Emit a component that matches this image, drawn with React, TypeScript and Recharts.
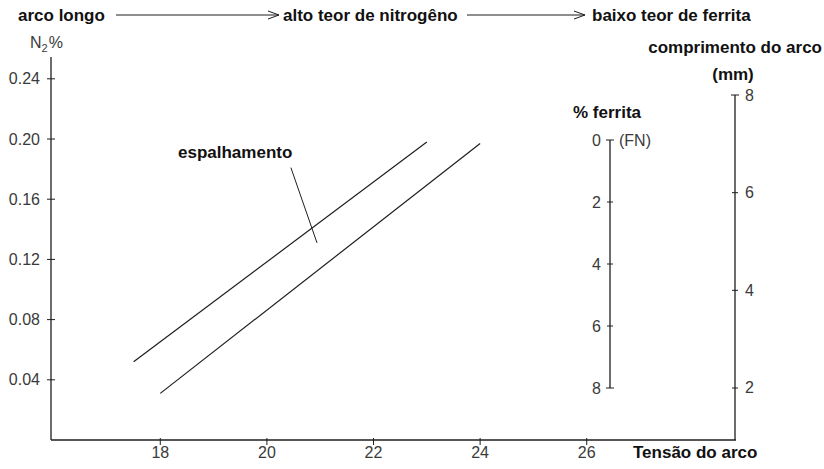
import React from 'react';
import { LineChart, Line, XAxis, YAxis, ReferenceLine } from 'recharts';

// ---- data ----
const tensionTicks = [18, 20, 22, 24, 26];
const n2Ticks = [0.04, 0.08, 0.12, 0.16, 0.2, 0.24];
const ferritaTicks = [0, 2, 4, 6, 8];
const comprimentoTicks = [2, 4, 6, 8];

const upperBand = [
  { v: 17.5, n2: 0.052 },
  { v: 23.0, n2: 0.198 },
];
const lowerBand = [
  { v: 18.0, n2: 0.031 },
  { v: 24.0, n2: 0.197 },
];
const leaderStart = { x: 20.45, y: 0.181 };
const leaderEnd = { x: 20.94, y: 0.131 };

const FONT = '"Liberation Sans", Arial, Helvetica, sans-serif';
const INK = '#1e1e1e';
const TICK_INK = '#3a3a3a';

const LeftTick = (props: any) => {
  const { x, y, payload } = props;
  return (
    <g>
      <line x1={x - 4} x2={x + 4} y1={y} y2={y} stroke={INK} strokeWidth={1} />
      <text x={x - 11} y={y} textAnchor="end" dominantBaseline="central" fontSize={16} fontFamily={FONT} fill={TICK_INK}>
        {Number(payload.value).toFixed(2)}
      </text>
    </g>
  );
};

const BottomTick = (props: any) => {
  const { x, y, payload } = props;
  return (
    <g>
      <line x1={x} x2={x} y1={y - 2} y2={y + 5} stroke={INK} strokeWidth={1} />
      <text x={x} y={y + 12} textAnchor="middle" dominantBaseline="central" fontSize={16} fontFamily={FONT} fill={TICK_INK}>
        {payload.value}
      </text>
    </g>
  );
};

const FerritaTick = (props: any) => {
  const { x, y, payload } = props;
  const end = payload.value === 0 || payload.value === 8;
  return (
    <g>
      <line x1={x - (end ? 4 : 3)} x2={x + (end ? 4 : 3)} y1={y} y2={y} stroke={INK} strokeWidth={1} />
      <text x={x - 9} y={y} textAnchor="end" dominantBaseline="central" fontSize={16} fontFamily={FONT} fill={TICK_INK}>
        {payload.value}
      </text>
      {payload.value === 0 && (
        <text x={x + 9} y={y} textAnchor="start" dominantBaseline="central" fontSize={16} fontFamily={FONT} fill={TICK_INK}>
          (FN)
        </text>
      )}
    </g>
  );
};

const ComprimentoTick = (props: any) => {
  const { x, y, payload } = props;
  const end = payload.value === 8;
  return (
    <g>
      <line x1={x - (end ? 4 : 3)} x2={x + (end ? 4 : 3)} y1={y} y2={y} stroke={INK} strokeWidth={1} />
      <text x={x + 10} y={y} textAnchor="start" dominantBaseline="central" fontSize={16} fontFamily={FONT} fill={TICK_INK}>
        {payload.value}
      </text>
    </g>
  );
};

const Arrow = ({ x1, x2, y }: { x1: number; x2: number; y: number }) => (
  <g stroke={INK} strokeWidth={1} fill="none">
    <line x1={x1} x2={x2} y1={y} y2={y} />
    <polyline points={`${x2 - 11},${y - 4} ${x2},${y} ${x2 - 11},${y + 4}`} />
  </g>
);

const boldText = { fontFamily: FONT, fontWeight: 700, fontSize: 17, fill: '#111' } as const;

export default function App() {
  return (
    <div style={{ position: 'absolute', left: 0, top: 0, width: 824, height: 469, background: '#fff' }}>
      {/* main chart */}
      <div style={{ position: 'absolute', left: 0, top: 0 }}>
        <LineChart width={824} height={469} margin={{ top: 57, right: 88, bottom: 0, left: 0 }}>
          <XAxis
            type="number"
            dataKey="v"
            domain={[15.95, 28.8]}
            allowDataOverflow
            ticks={tensionTicks}
            tick={<BottomTick />}
            tickLine={false}
            tickSize={0}
            tickMargin={0}
            height={29}
            axisLine={{ stroke: INK, strokeWidth: 1.3 }}
          />
          <YAxis
            type="number"
            domain={[0, 0.2545]}
            allowDataOverflow
            ticks={n2Ticks}
            tick={<LeftTick />}
            tickLine={false}
            tickSize={0}
            tickMargin={0}
            width={51}
            axisLine={{ stroke: INK, strokeWidth: 1.3 }}
          />
          <Line data={upperBand} dataKey="n2" type="linear" stroke={INK} strokeWidth={1.2} dot={false} isAnimationActive={false} />
          <Line data={lowerBand} dataKey="n2" type="linear" stroke={INK} strokeWidth={1.2} dot={false} isAnimationActive={false} />
          <ReferenceLine segment={[leaderStart, leaderEnd]} stroke={INK} strokeWidth={1} />
        </LineChart>
      </div>

      {/* % ferrita scale */}
      <div style={{ position: 'absolute', left: 560, top: 130 }}>
        <LineChart width={110} height={268} margin={{ top: 10, right: 0, bottom: 10, left: 0 }} data={[{ f: 0 }]}>
          <XAxis hide type="number" domain={[0, 1]} />
          <YAxis
            type="number"
            orientation="left"
            reversed
            domain={[0, 8]}
            allowDataOverflow
            ticks={ferritaTicks}
            tick={<FerritaTick />}
            tickLine={false}
            tickSize={0}
            tickMargin={0}
            width={50}
            axisLine={{ stroke: INK, strokeWidth: 1.3 }}
          />
        </LineChart>
      </div>

      {/* comprimento do arco scale */}
      <div style={{ position: 'absolute', left: 695, top: 83 }}>
        <LineChart width={80} height={357} margin={{ top: 12, right: 0, bottom: 0, left: 0 }} data={[{ c: 0 }]}>
          <XAxis hide type="number" domain={[0, 1]} />
          <YAxis
            type="number"
            orientation="right"
            domain={[0.935, 8]}
            allowDataOverflow
            ticks={comprimentoTicks}
            tick={<ComprimentoTick />}
            tickLine={false}
            tickSize={0}
            tickMargin={0}
            width={40}
            axisLine={{ stroke: INK, strokeWidth: 1.3 }}
          />
        </LineChart>
      </div>

      {/* annotations */}
      <svg width={824} height={469} style={{ position: 'absolute', left: 0, top: 0, pointerEvents: 'none' }}>
        <text x={18} y={21} {...boldText}>arco longo</text>
        <Arrow x1={116} x2={279} y={15} />
        <text x={283} y={21} {...boldText}>alto teor de nitrogêno</text>
        <Arrow x1={467} x2={585} y={15} />
        <text x={592} y={21} {...boldText}>baixo teor de ferrita</text>

        <text x={30} y={48} fontFamily={FONT} fontSize={16} fill={TICK_INK}>
          N<tspan fontSize={11} dy={4}>2</tspan><tspan dy={-4} dx={1}>%</tspan>
        </text>

        <text x={822} y={53} textAnchor="end" {...boldText}>comprimento do arco</text>
        <text x={733} y={80} textAnchor="middle" {...boldText}>(mm)</text>
        <text x={573} y={118} {...boldText}>% ferrita</text>
        <text x={178} y={158} {...boldText}>espalhamento</text>
        <text x={633} y={458} {...boldText}>Tensão do arco</text>
      </svg>
    </div>
  );
}
